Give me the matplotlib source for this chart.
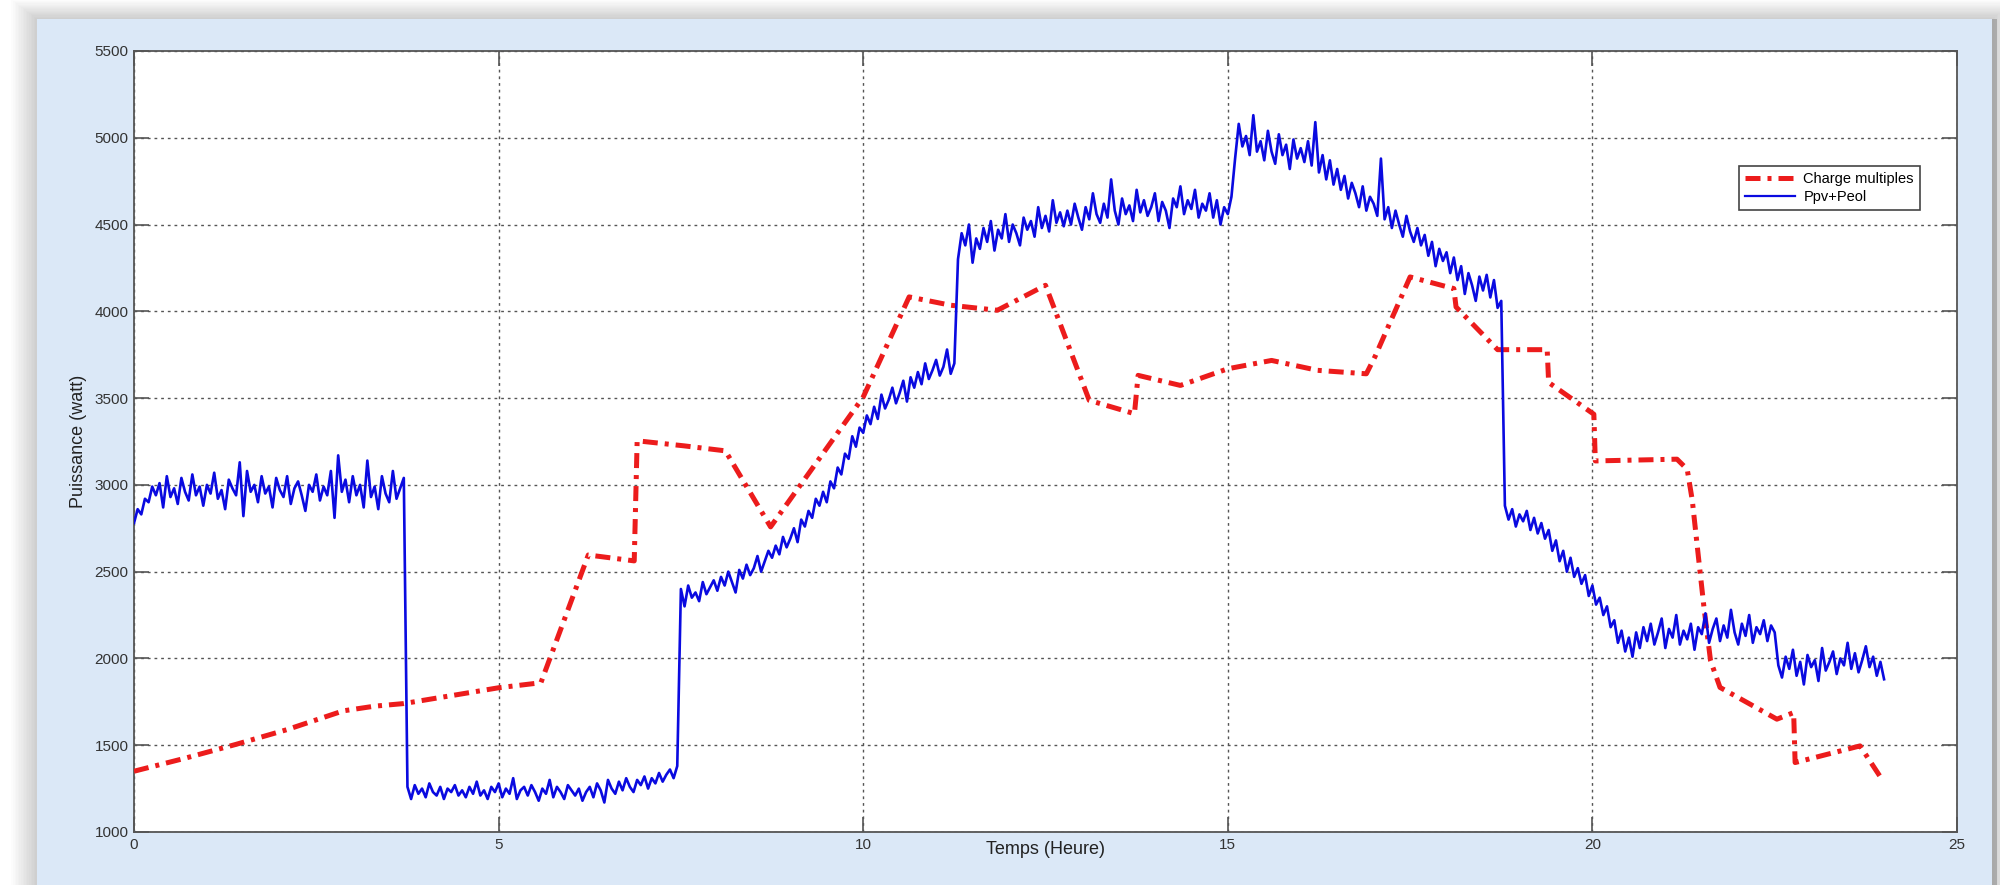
import numpy as np
import matplotlib
matplotlib.use("Agg")
import matplotlib.pyplot as plt
from matplotlib.patches import Rectangle
from matplotlib.lines import Line2D

plt.rcParams['font.family'] = ['Liberation Sans', 'DejaVu Sans']

# Charge multiples (load)
t_charge = [0.0, 0.7, 1.4, 2.1, 2.87, 3.3, 3.7, 5.0, 5.58, 6.23, 6.86, 6.9,
            7.54, 8.11, 8.73, 10.0, 10.63, 11.2, 11.84, 12.5, 13.1, 13.72,
            13.77, 14.35, 15.0, 15.6, 16.23, 16.9, 17.02, 17.5, 18.1, 18.13,
            18.7, 19.38, 19.4, 20.02, 20.04, 21.16, 21.3, 21.37, 21.45, 21.53,
            21.62, 21.75, 22.16, 22.53, 22.76, 22.78, 23.67, 23.97]
p_charge = [1350, 1425, 1505, 1590, 1698, 1725, 1740, 1831, 1860, 2596, 2562, 3254,
            3225, 3196, 2758, 3506, 4083, 4035, 4006, 4150, 3487, 3410,
            3631, 3573, 3669, 3717, 3660, 3640, 3740, 4198, 4131, 4025,
            3779, 3779, 3590, 3407, 3138, 3148, 3090, 2910, 2600, 2294,
            1987, 1833, 1737, 1650, 1688, 1400, 1496, 1304]

# Ppv+Peol, one sample every 0.05 h from 0 to 24 h
ppv_step = 0.05
ppv_peol = [
    # 0.00 - 3.70
    2780, 2860, 2830, 2920, 2900, 2990, 2940, 3010, 2870, 3050,
    2930, 2980, 2890, 3040, 2960, 2910, 3060, 2940, 2990, 2880,
    3000, 2950, 3070, 2920, 2970, 2860, 3030, 2980, 2940, 3130,
    2820, 3080, 2960, 3000, 2900, 3050, 2950, 2990, 2870, 3040,
    2970, 2930, 3050, 2890, 2980, 3020, 2940, 2850, 3000, 2960,
    3060, 2910, 2990, 2940, 3080, 2810, 3170, 2960, 3030, 2900,
    3050, 2940, 3000, 2870, 3140, 2930, 2990, 2860, 3050, 2950,
    2900, 3080, 2920, 2980, 3040,
    # 3.75 - 7.45
    1260, 1190, 1270, 1220, 1250, 1200, 1280, 1230, 1210, 1260,
    1190, 1250, 1230, 1270, 1210, 1240, 1200, 1260, 1220, 1290,
    1210, 1240, 1190, 1260, 1230, 1280, 1200, 1250, 1220, 1310,
    1190, 1240, 1260, 1210, 1270, 1230, 1180, 1250, 1220, 1300,
    1200, 1260, 1230, 1190, 1270, 1240, 1210, 1250, 1180, 1230,
    1260, 1200, 1280, 1240, 1170, 1300, 1250, 1220, 1290, 1240,
    1310, 1260, 1230, 1300, 1270, 1320, 1250, 1310, 1280, 1340,
    1290, 1330, 1360, 1310, 1380,
    # 7.50 - 11.25
    2400, 2300, 2420, 2350, 2380, 2330, 2440, 2370, 2410, 2450,
    2390, 2470, 2420, 2500, 2440, 2380, 2510, 2460, 2540, 2480,
    2520, 2590, 2500, 2560, 2620, 2580, 2650, 2600, 2700, 2640,
    2690, 2750, 2670, 2800, 2760, 2850, 2810, 2920, 2880, 2960,
    2900, 3020, 2980, 3100, 3060, 3180, 3150, 3280, 3220, 3330,
    3300, 3400, 3350, 3450, 3380, 3520, 3440, 3490, 3560, 3470,
    3530, 3600, 3480, 3620, 3560, 3650, 3580, 3700, 3610, 3660,
    3720, 3630, 3680, 3780, 3640, 3700,
    # 11.30 - 15.05
    4300, 4450, 4380, 4500, 4280, 4420, 4360, 4480, 4400, 4520,
    4350, 4470, 4420, 4560, 4400, 4500, 4450, 4380, 4540, 4470,
    4520, 4430, 4600, 4480, 4550, 4460, 4640, 4510, 4570, 4490,
    4580, 4500, 4620, 4540, 4470, 4600, 4530, 4680, 4560, 4510,
    4620, 4540, 4760, 4580, 4500, 4650, 4560, 4610, 4520, 4700,
    4570, 4640, 4550, 4600, 4680, 4520, 4630, 4580, 4480, 4650,
    4600, 4720, 4560, 4640, 4590, 4700, 4540, 4620, 4580, 4680,
    4540, 4640, 4500, 4600, 4560, 4660,
    # 15.10 - 18.75
    4880, 5080, 4950, 5010, 4900, 5130, 4920, 4980, 4870, 5040,
    4920, 4850, 5020, 4900, 4960, 4820, 4990, 4880, 4940, 4860,
    4980, 4840, 5090, 4800, 4900, 4760, 4870, 4730, 4820, 4700,
    4780, 4650, 4740, 4680, 4600, 4720, 4580, 4660, 4620, 4550,
    4880, 4530, 4600, 4480, 4580, 4500, 4430, 4550, 4460, 4400,
    4480, 4380, 4440, 4320, 4400, 4260, 4360, 4290, 4340, 4220,
    4310, 4180, 4260, 4100, 4220, 4150, 4060, 4200, 4120, 4210,
    4080, 4180, 4020, 4060,
    # 18.80 - 22.50
    2880, 2800, 2860, 2760, 2830, 2790, 2850, 2740, 2810, 2720,
    2780, 2690, 2740, 2620, 2680, 2560, 2620, 2500, 2580, 2470,
    2520, 2430, 2480, 2360, 2420, 2310, 2350, 2250, 2300, 2180,
    2220, 2090, 2160, 2040, 2120, 2010, 2150, 2060, 2180, 2100,
    2200, 2080, 2150, 2230, 2060, 2170, 2120, 2250, 2080, 2160,
    2110, 2200, 2050, 2180, 2140, 2260, 2090, 2170, 2230, 2100,
    2190, 2120, 2280, 2150, 2080, 2200, 2130, 2250, 2090, 2180,
    2140, 2220, 2100, 2190, 2150,
    # 22.55 - 24.00
    1960, 1890, 2010, 1940, 2050, 1900, 1980, 1850, 2020, 1950,
    1990, 1870, 2060, 1930, 1980, 2040, 1910, 2000, 1960, 2090,
    1940, 2030, 1920, 1990, 2070, 1950, 2010, 1900, 1980, 1880,
]

x_ticks = [0, 5, 10, 15, 20, 25]
y_ticks = [1000, 1500, 2000, 2500, 3000, 3500, 4000, 4500, 5000, 5500]

RED = '#ec1c1c'
BLUE = '#0a0ae0'
RED_DASH = (3, 1.4, 0.8, 1.4)


def draw_panel(fig):
    '''
    Light blue backdrop with a soft shadow, like the screenshot frame
    '''
    x0, y0 = 37 / 2000, 0.0
    w, h = (1992 - 37) / 2000, (885 - 19) / 885
    for k in range(1, 17):
        dx, dy = k * 1.6 / 2000, k * 1.2 / 885
        fig.patches.append(Rectangle((x0 - dx, y0), w + 2 * dx, h + dy,
                                     transform=fig.transFigure, facecolor='black',
                                     edgecolor='none', alpha=0.012, zorder=-20))
    fig.patches.append(Rectangle((x0 + w, y0), 5 / 2000, h, transform=fig.transFigure,
                                 facecolor='#8a8a8a', edgecolor='none', alpha=0.55, zorder=-15))
    fig.patches.append(Rectangle((x0, y0), w, h, transform=fig.transFigure,
                                 facecolor='#dbe8f7', edgecolor='none', zorder=-10))


fig = plt.figure(figsize=(20, 8.85), dpi=100)
fig.patch.set_facecolor('white')
draw_panel(fig)

ax = fig.add_axes([0.067, 0.0599, 0.9115, 0.8825])
ax.set_facecolor('white')

t_ppv = np.arange(len(ppv_peol)) * ppv_step
ax.plot(t_charge, p_charge, color=RED, lw=3.6, dashes=RED_DASH, zorder=3)
ax.plot(t_ppv, ppv_peol, color=BLUE, lw=1.9, zorder=4)

ax.set_xlim(0, 25)
ax.set_ylim(1000, 5500)
ax.set_xticks(x_ticks)
ax.set_yticks(y_ticks)
ax.grid(True, color='#555555', lw=1.0, dashes=(2, 2.8))
ax.tick_params(direction='in', length=11, width=1.2, top=True, right=True,
               color='#555555', labelcolor='#333333', labelsize=11, pad=4)
for sp in ax.spines.values():
    sp.set_color('#555555')
    sp.set_linewidth(1.3)

ax.set_xlabel('Temps (Heure)', fontsize=13, color='#222222')
ax.set_ylabel('Puissance (watt)', fontsize=13, color='#222222')
ax.xaxis.set_label_coords(0.5, -0.012)
ax.yaxis.set_label_coords(-0.026, 0.5)

handles = [Line2D([], [], color=RED, lw=3.6, dashes=RED_DASH),
           Line2D([], [], color=BLUE, lw=1.6)]
leg = ax.legend(handles, ['Charge multiples', 'Ppv+Peol'], loc='upper right',
                bbox_to_anchor=(0.9835, 0.862), fontsize=10.5, fancybox=False,
                framealpha=1, edgecolor='#444444', handlelength=3.4,
                borderpad=0.4, labelspacing=0.3, handletextpad=0.6)
leg.get_frame().set_linewidth(1.2)

fig.savefig('out.png', dpi=100, facecolor=fig.get_facecolor())
